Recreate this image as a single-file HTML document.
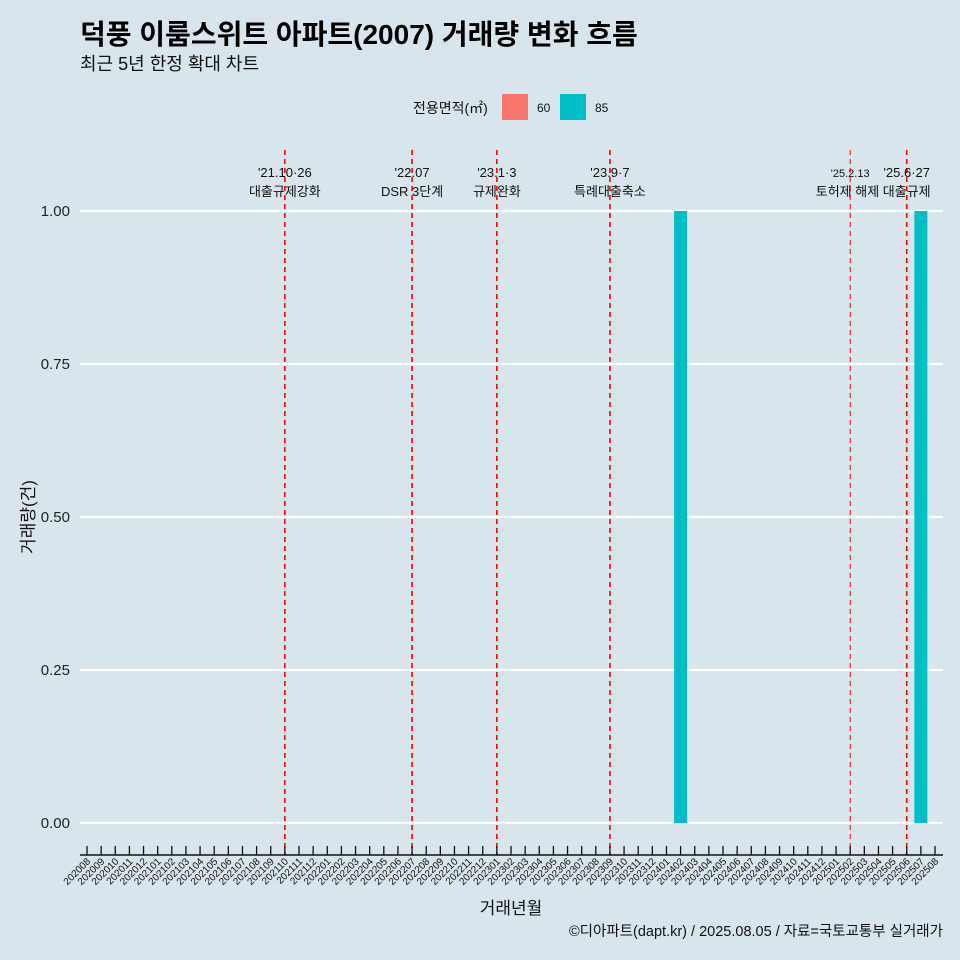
<!DOCTYPE html>
<html><head><meta charset="utf-8"><style>
body{margin:0;background:#d8e5ec;font-family:"Liberation Sans","Noto Sans CJK KR",sans-serif;}
</style></head><body>
<svg id="c" width="960" height="960" xmlns="http://www.w3.org/2000/svg" style="display:block;background:#d8e5ec">
<text x="80" y="44" font-size="28" font-weight="bold" fill="#000" font-family="Liberation Sans, Noto Sans CJK KR, sans-serif">덕풍 이룸스위트 아파트(2007) 거래량 변화 흐름</text>
<text x="80" y="70" font-size="18" fill="#111" font-family="Liberation Sans, Noto Sans CJK KR, sans-serif">최근 5년 한정 확대 차트</text>
<g font-family="Liberation Sans, Noto Sans CJK KR, sans-serif">
<text x="413" y="113" font-size="14" fill="#111">전용면적(㎡)</text>
<rect x="502" y="94" width="26" height="26" fill="#f8766d"/>
<text x="537" y="112" font-size="12" fill="#111">60</text>
<rect x="560" y="94" width="26" height="26" fill="#00bfc4"/>
<text x="595" y="112" font-size="12" fill="#111">85</text>
</g>
<g id="grid"></g><g id="bars"></g><g id="vl"></g><g id="axes"></g>
<text transform="translate(34,517) rotate(-90)" text-anchor="middle" font-size="17" fill="#111" font-family="Liberation Sans, Noto Sans CJK KR, sans-serif">거래량(건)</text>
<text x="511" y="914" text-anchor="middle" font-size="17" fill="#111" font-family="Liberation Sans, Noto Sans CJK KR, sans-serif">거래년월</text>
<text x="943" y="936" text-anchor="end" font-size="14.5" fill="#111" font-family="Liberation Sans, Noto Sans CJK KR, sans-serif">©디아파트(dapt.kr) / 2025.08.05 / 자료=국토교통부 실거래가</text>
</svg>
<script>
const categories=[];for(let y=2020;y<=2025;y++)for(let m=1;m<=12;m++){const k=y*100+m;if(k>=202008&&k<=202508)categories.push(String(k));}
const barMonths=["202402","202507"];
const barValues=[1,1];
const barArea=["85","85"];
const yTicks=[0,0.25,0.5,0.75,1];
const yTickLabels=["0.00","0.25","0.50","0.75","1.00"];
const eventMonths=["202110","202207","202301","202309","202502","202506"];
const eventDates=["'21.10·26","'22.07","'23.1·3","'23.9·7","'25.2.13","'25.6·27"];
const eventLabels=["대출규제강화","DSR 3단계","규제완화","특례대출축소","토허제 해제","대출규제"];
const NS="http://www.w3.org/2000/svg";
const x=c=>87+categories.indexOf(c)*(935-87)/(categories.length-1);
const y=v=>823-v*(823-211);
function el(t,a,p){const e=document.createElementNS(NS,t);for(const k in a)e.setAttribute(k,a[k]);document.getElementById(p).appendChild(e);return e;}
const F="Liberation Sans, Noto Sans CJK KR, sans-serif";
yTicks.forEach((v,i)=>{
 const g=el('line',{x1:80,x2:943,y1:y(v),y2:y(v),stroke:'#fff','stroke-width':2.2},'grid');
 
 
 const t=el('text',{x:70,y:y(v)+5,'text-anchor':'end','font-size':15,fill:'#222','font-family':F},'axes');t.textContent=yTickLabels[i];
 
 
});
barMonths.forEach((m,i)=>{
 const r=el('rect',{x:x(m)-6.5,y:y(barValues[i]),width:13,height:y(0)-y(barValues[i]),fill:barArea[i]==="60"?'#f8766d':'#00bfc4'},'bars');
 
 
});
eventMonths.forEach((m,i)=>{
 const thin=m==="202502";
 const l=el('line',{x1:x(m),x2:x(m),y1:150,y2:855,stroke:'#ff0000','stroke-width':thin?1:1.6,'stroke-dasharray':'5,4'},'vl');
 
 
 const t1=el('text',{x:x(m),y:177,'text-anchor':'middle','font-size':thin?11:13,fill:'#111','font-family':F},'vl');t1.textContent=eventDates[i];
 
 
 const t2=el('text',{x:x(m),y:196,'text-anchor':thin?'end':'middle','font-size':13,fill:'#111','font-family':F},'vl');t2.textContent=eventLabels[i];
 if(thin)t2.setAttribute('x',x(m)+29);
 
 
});
const ax=el('line',{x1:80,x2:943,y1:855,y2:855,stroke:'#111','stroke-width':1.5},'axes');


categories.forEach(c=>{
 const tk=el('line',{x1:x(c),x2:x(c),y1:846,y2:855,stroke:'#111','stroke-width':1.3},'axes');
 
 
 const t=el('text',{x:x(c)+4,y:862,'text-anchor':'end','font-size':10,fill:'#111','font-family':F,transform:`rotate(-45 ${x(c)+4} 862)`},'axes');t.textContent=c;
 
 
});
</script>
</body></html>
